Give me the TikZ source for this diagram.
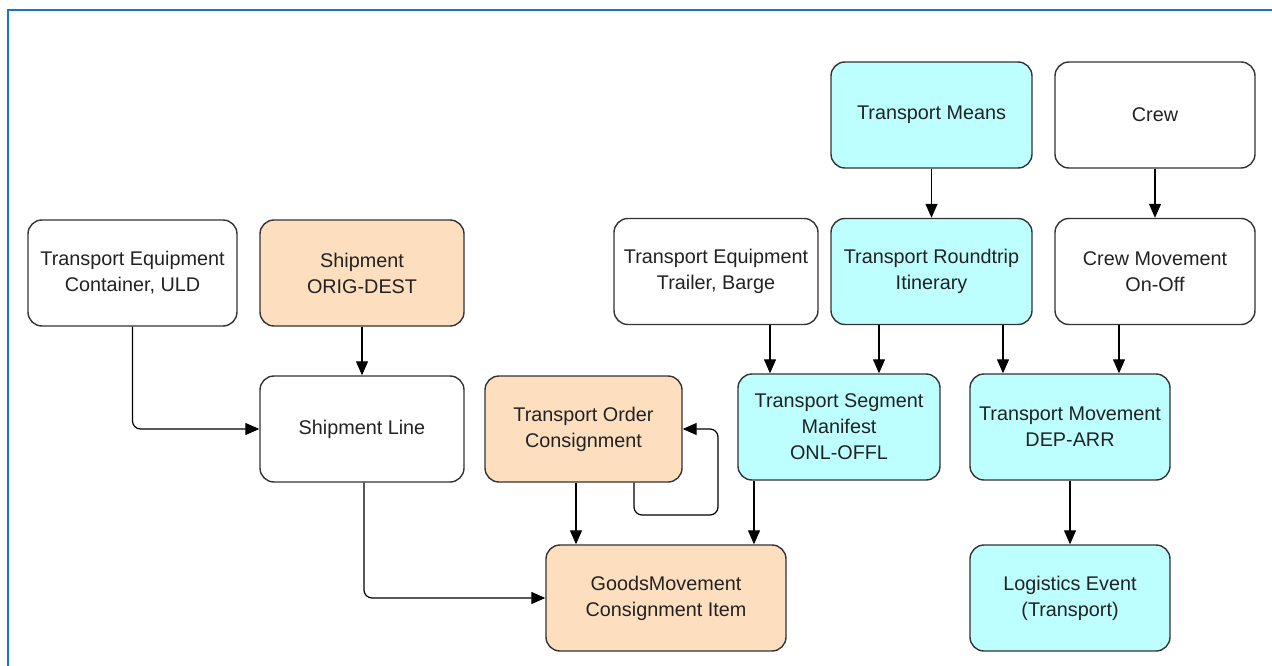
\documentclass[tikz,border=0pt]{standalone}
\usepackage{fontspec}
\setmainfont{Liberation Sans}
\usetikzlibrary{arrows.meta}
\definecolor{cyanfill}{HTML}{BDFFFF}
\definecolor{peachfill}{HTML}{FDDFC0}
\definecolor{edgegray}{HTML}{333333}
\definecolor{framblue}{HTML}{1C74C4}
\definecolor{txt}{HTML}{222222}
\tikzset{
  box/.style={draw=edgegray, line width=1.4pt, rounded corners=14pt, minimum width=#1, minimum height=106pt, align=center, inner sep=0pt, text=txt, font=\fontsize{19.8}{26}\selectfont, fill=white},
  box/.default=204pt,
  cy/.style={fill=cyanfill},
  pe/.style={fill=peachfill},
  conn/.style={draw=black, line width=1.2pt, rounded corners=8pt, -{Triangle[width=12pt,length=14pt]}},
  plain/.style={draw=black, line width=1.2pt, rounded corners=8pt}
}
\begin{document}
\begin{tikzpicture}[x=1pt,y=-1pt]
\useasboundingbox (0,0) rectangle (1272,666);
\draw[framblue, line width=2.2pt] (8,666) -- (8,10) -- (1272,10);

\node[box=209pt] (tec) at (132.5,273) {Transport Equipment\\Container, ULD};
\node[box, pe] (ship) at (362,273) {Shipment\\ORIG-DEST};
\node[box] (sl) at (362,429) {Shipment Line};
\node[box=197pt, pe] (to) at (583.5,429) {Transport Order\\Consignment};
\node[box] (tet) at (716,271.5) {Transport Equipment\\Trailer, Barge};
\node[box=201pt, cy] (tm) at (931.5,115) {Transport Means};
\node[box=200pt] (crew) at (1155,115) {Crew};
\node[box=201pt, cy] (tri) at (931.5,271.5) {Transport Roundtrip\\Itinerary};
\node[box=200pt] (cm) at (1155,271.5) {Crew Movement\\On-Off};
\node[box=202pt, cy] (tsm) at (839,427) {Transport Segment\\Manifest\\ONL-OFFL};
\node[box=200pt, cy] (tmv) at (1070,427) {Transport Movement\\DEP-ARR};
\node[box=240pt, pe] (gm) at (666,598) {GoodsMovement\\Consignment Item};
\node[box=200pt, cy] (le) at (1070,598) {Logistics Event\\(Transport)};

\draw[conn] (tec.south) -- (tec.south |- sl.west) -- (sl.west);
\draw[conn] (ship) -- (sl);
\draw[conn] (sl.south -| 364,0) -- (364,598) -- (gm.west);
\draw[conn] (to.south -| 576,0) -- (gm.north -| 576,0);
\draw[conn] (to.south -| 634,0) -- (634,515) -- (718,515) -- (718,429) -- (to.east);
\draw[conn] (tsm.south -| 754,0) -- (gm.north -| 754,0);
\draw[conn] (tet.south -| 770,0) -- (tsm.north -| 770,0);
\draw[conn] (tri.south -| 879,0) -- (tsm.north -| 879,0);
\draw[conn] (tri.south -| 1003,0) -- (tmv.north -| 1003,0);
\draw[conn] (cm.south -| 1119,0) -- (tmv.north -| 1119,0);
\draw[conn] (tm) -- (tri);
\draw[conn] (crew) -- (cm);
\draw[conn] (tmv) -- (le);
\end{tikzpicture}
\end{document}
